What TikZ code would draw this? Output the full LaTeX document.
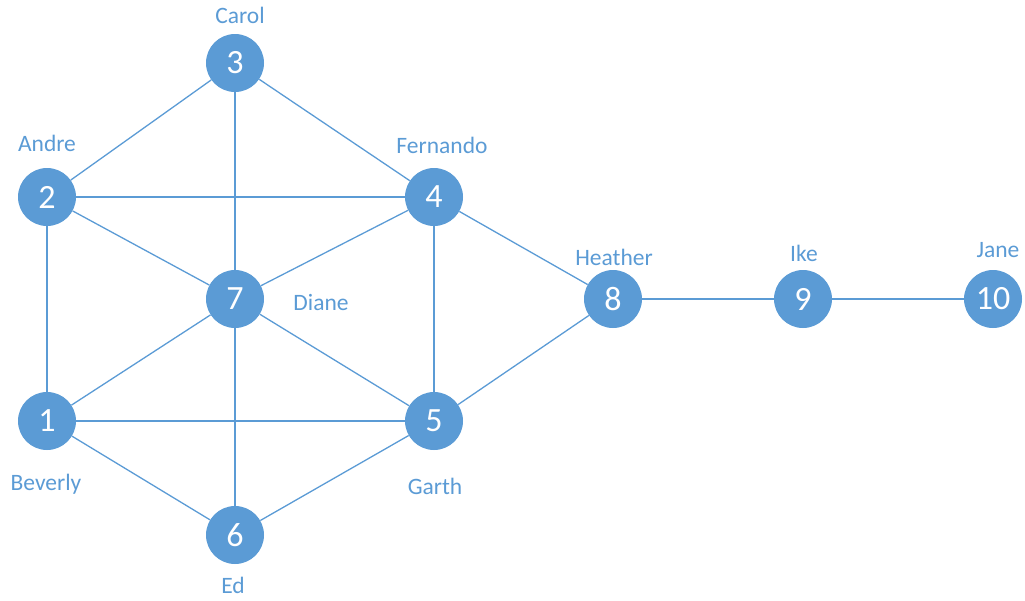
\documentclass[tikz,border=0pt]{standalone}
\usepackage{fontspec}
\setmainfont{Carlito}
\definecolor{nodeblue}{HTML}{5B9BD5}
\tikzset{
  vtx/.style={circle, fill=nodeblue, draw=none, minimum size=58pt, inner sep=0pt,
    text=white, font=\fontsize{34}{38}\selectfont},
  lbl/.style={text=nodeblue, font=\fontsize{23.5}{27}\selectfont, inner sep=0pt},
  edge/.style={draw=nodeblue, line width=1.3pt}
}
\begin{document}
\begin{tikzpicture}[x=1pt, y=-1pt]
\useasboundingbox (0,0) rectangle (1025,600);
% vertices
\node[vtx] (n3) at (235,63) {3};
\node[vtx] (n2) at (47,197) {2};
\node[vtx] (n4) at (434,197) {4};
\node[vtx] (n7) at (235,299) {7};
\node[vtx] (n8) at (613,299) {8};
\node[vtx] (n9) at (803,299) {9};
\node[vtx] (n10) at (993,299) {10};
\node[vtx] (n1) at (47,421) {1};
\node[vtx] (n5) at (434,421) {5};
\node[vtx] (n6) at (235,535) {6};
% names
\node[lbl] (lc) at (240,15) {Carol};
\node[lbl] (la) at (47,143) {Andre};
\node[lbl] (lf) at (442,145) {Fernando};
\node[lbl] (lh) at (614,257) {Heather};
\node[lbl] (li) at (804,253) {Ike};
\node[lbl] (lj) at (998,250) {Jane};
\node[lbl] (ld) at (321,302) {Diane};
\node[lbl] (lb) at (46,484) {Beverly};
\node[lbl] (lg) at (435,486) {Garth};
\node[lbl] (le) at (233,585) {Ed};
% edges
\foreach \a/\b in {n3/n2, n3/n4, n3/n7, n2/n4, n2/n7, n2/n1, n4/n7, n4/n5, n4/n8,
  n7/n1, n7/n5, n7/n6, n1/n5, n1/n6, n5/n6, n5/n8, n8/n9, n9/n10}
  \draw[edge] (\a) -- (\b);
\end{tikzpicture}
\end{document}
